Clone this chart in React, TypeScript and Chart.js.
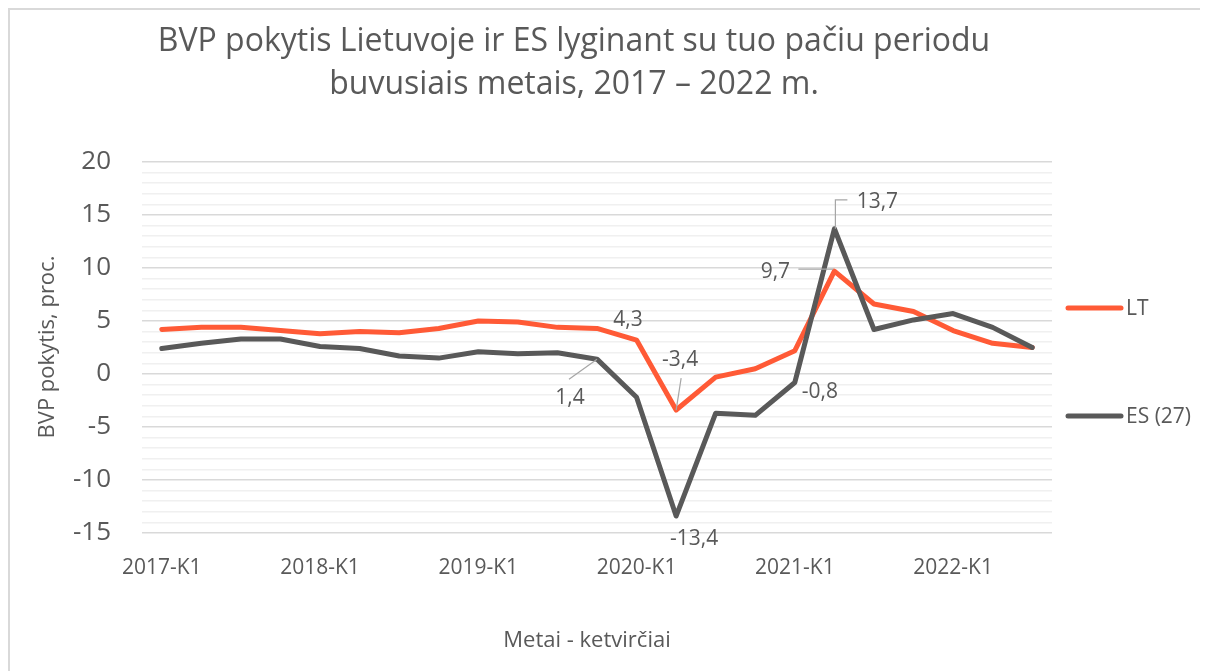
import React, { useEffect, useRef } from "react";
import { Chart, registerables } from "chart.js";

Chart.register(...registerables);

const quarters: string[] = [
  "2017-K1", "2017-K2", "2017-K3", "2017-K4",
  "2018-K1", "2018-K2", "2018-K3", "2018-K4",
  "2019-K1", "2019-K2", "2019-K3", "2019-K4",
  "2020-K1", "2020-K2", "2020-K3", "2020-K4",
  "2021-K1", "2021-K2", "2021-K3", "2021-K4",
  "2022-K1", "2022-K2", "2022-K3",
];
const ltValues: number[] = [4.2, 4.4, 4.4, 4.1, 3.8, 4.0, 3.9, 4.3, 5.0, 4.9, 4.4, 4.3, 3.2, -3.4, -0.3, 0.5, 2.2, 9.7, 6.6, 5.9, 4.1, 2.9, 2.5];
const esValues: number[] = [2.4, 2.9, 3.3, 3.3, 2.6, 2.4, 1.7, 1.5, 2.1, 1.9, 2.0, 1.4, -2.2, -13.4, -3.7, -3.9, -0.8, 13.7, 4.2, 5.1, 5.7, 4.4, 2.5];
const seriesNames: string[] = ["LT", "ES (27)"];
const titleLines: string[] = ["BVP pokytis Lietuvoje ir ES lyginant su tuo pačiu periodu", "buvusiais metais, 2017 – 2022 m."];
const yTitle = "BVP pokytis, proc.";
const xTitle = "Metai - ketvirčiai";

const LT_COLOR = "#FF5A36";
const ES_COLOR = "#595959";
const TEXT_COLOR = "#595959";
const FONT = "'Open Sans', sans-serif";

// label annotations: dataset index, point index, offset of label centre, leader polyline offsets
const annotations = [
  { ds: 0, i: 11, dx: 31, dy: -8, leader: null as null | number[][] },
  { ds: 1, i: 11, dx: -27, dy: 39, leader: [[0, 0], [-28, 20]] },
  { ds: 0, i: 13, dx: 4, dy: -50, leader: [[0, 0], [5, -32]] },
  { ds: 1, i: 13, dx: 18, dy: 23, leader: null },
  { ds: 1, i: 16, dx: 25, dy: 10, leader: null },
  { ds: 0, i: 17, dx: -59, dy: 1, leader: [[-1, -2], [-36, -2]] },
  { ds: 1, i: 17, dx: 43, dy: -27, leader: [[1, 0], [1, -29], [13, -29]] },
];

const fmt = (v: number) => String(v).replace(".", ",");

export default function App() {
  const ref = useRef<HTMLCanvasElement | null>(null);

  useEffect(() => {
    document.body.style.overflow = "hidden";
    const canvas = ref.current!;
    const W = 1198, H = 661;
    const plotLeft = 132, plotRight = 1042, plotTop = 152, plotBottom = 523;

    const textPlugin = {
      id: "customText",
      afterDatasetsDraw(chart: any) {
        const ctx = chart.ctx as CanvasRenderingContext2D;
        ctx.save();
        ctx.font = `21px ${FONT}`;
        ctx.fillStyle = TEXT_COLOR;
        ctx.textAlign = "center";
        ctx.textBaseline = "middle";
        const values = [ltValues, esValues];
        for (const a of annotations) {
          const pt = chart.getDatasetMeta(a.ds).data[a.i];
          if (a.leader) {
            ctx.beginPath();
            ctx.strokeStyle = "#a6a6a6";
            ctx.lineWidth = 1.2;
            a.leader.forEach((p, k) => {
              if (k === 0) ctx.moveTo(pt.x + p[0], pt.y + p[1]);
              else ctx.lineTo(pt.x + p[0], pt.y + p[1]);
            });
            ctx.stroke();
          }
          ctx.fillText(fmt(values[a.ds][a.i]), pt.x + a.dx, pt.y + a.dy);
        }
        ctx.restore();
      },
      afterDraw(chart: any) {
        const ctx = chart.ctx as CanvasRenderingContext2D;
        ctx.save();
        ctx.fillStyle = TEXT_COLOR;
        ctx.font = `32px ${FONT}`;
        ctx.textAlign = "center";
        ctx.textBaseline = "middle";
        ctx.fillText(titleLines[0], 564, 32);
        ctx.fillText(titleLines[1], 564, 75);
        ctx.font = `22px ${FONT}`;
        ctx.fillText(xTitle, 577, 631);
        ctx.save();
        ctx.translate(38, 337);
        ctx.rotate(-Math.PI / 2);
        ctx.fillText(yTitle, 0, 0);
        ctx.restore();
        const items = [
          { name: seriesNames[0], color: LT_COLOR, y: 298 },
          { name: seriesNames[1], color: ES_COLOR, y: 406 },
        ];
        ctx.font = `21px ${FONT}`;
        ctx.textAlign = "left";
        for (const it of items) {
          ctx.beginPath();
          ctx.strokeStyle = it.color;
          ctx.lineWidth = 5;
          ctx.lineCap = "round";
          ctx.moveTo(1058, it.y);
          ctx.lineTo(1111, it.y);
          ctx.stroke();
          ctx.fillText(it.name, 1116, it.y + 1);
        }
        ctx.restore();
      },
    };

    const chart = new Chart(canvas, {
      type: "line",
      data: {
        labels: quarters,
        datasets: [
          {
            label: seriesNames[0],
            data: ltValues,
            borderColor: LT_COLOR,
            backgroundColor: LT_COLOR,
            borderWidth: 5,
            pointRadius: 0,
            tension: 0,
            borderCapStyle: "round",
            borderJoinStyle: "round",
            order: 2,
          },
          {
            label: seriesNames[1],
            data: esValues,
            borderColor: ES_COLOR,
            backgroundColor: ES_COLOR,
            borderWidth: 5,
            pointRadius: 0,
            tension: 0,
            borderCapStyle: "round",
            borderJoinStyle: "round",
            order: 1,
          },
        ],
      },
      options: {
        responsive: false,
        animation: false,
        layout: { padding: { left: 0, top: plotTop, right: W - plotRight, bottom: 0 } },
        plugins: { legend: { display: false }, title: { display: false }, tooltip: { enabled: false } },
        scales: {
          x: {
            offset: true,
            grid: { display: false },
            border: { display: false },
            ticks: {
              autoSkip: false,
              maxRotation: 0,
              padding: 14,
              color: TEXT_COLOR,
              font: { family: FONT, size: 21 },
              callback: (_v: any, idx: number) => (idx % 4 === 0 ? quarters[idx] : ""),
            },
            afterFit: (s: any) => { s.height = H - plotBottom; },
          },
          y: {
            min: -15,
            max: 20,
            grid: {
              drawTicks: false,
              color: (c: any) => (c.tick && c.tick.value % 5 === 0 ? "#d9d9d9" : "#f0f0f0"),
              lineWidth: 1.5,
            },
            border: { display: false },
            ticks: {
              stepSize: 1,
              autoSkip: false,
              padding: 31,
              color: TEXT_COLOR,
              font: { family: FONT, size: 26 },
              callback: (v: any) => (Number(v) % 5 === 0 ? String(v) : ""),
            },
            afterFit: (s: any) => { s.width = plotLeft; },
          },
        },
      } as any,
      plugins: [textPlugin],
    });
    return () => chart.destroy();
  }, []);

  return (
    <div style={{ width: 1200, height: 663, borderTop: "2px solid #d9d9d9", borderLeft: "2px solid #d9d9d9", boxSizing: "border-box", background: "#fff" }}>
      <canvas ref={ref} width={1198} height={661} style={{ display: "block" }} />
    </div>
  );
}
